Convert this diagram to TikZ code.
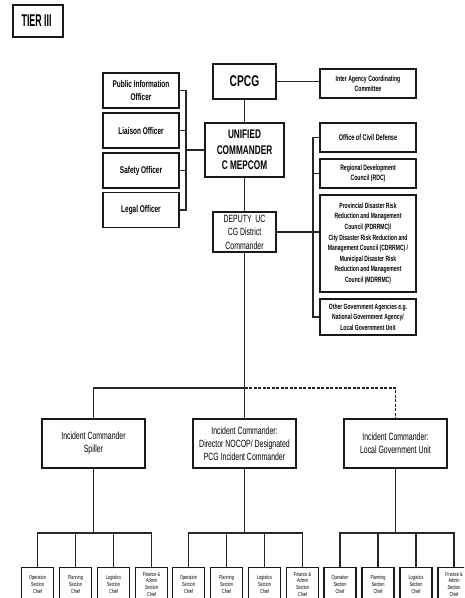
\documentclass[tikz,border=0pt]{standalone}
\usepackage{fontspec}
\setmainfont[FakeStretch=0.66]{Liberation Sans}
\newfontfamily\tierfont[FakeStretch=0.52]{Liberation Sans}
\begin{document}
\begin{tikzpicture}[x=1pt,y=-1pt,
  box/.style={draw=black!90,line width=1.2pt,fill=white,align=center,inner sep=1pt},
  conn/.style={draw=black!85,line width=1.1pt},
  dconn/.style={conn,dashed,dash pattern=on 3pt off 1.5pt},
  sub/.style={box,minimum width=32pt,minimum height=34pt,font=\fontsize{5.8}{6.8}\selectfont,anchor=north,text depth=0pt}]
\useasboundingbox (0,0) rectangle (464,598);
\clip (0,0) rectangle (464,598);
% title
\node[box,minimum width=50pt,minimum height=32pt,font=\tierfont\bfseries\fontsize{17}{19}\selectfont] (tier) at (38,21) {TIER III\,};
% top
\node[box,minimum width=63pt,minimum height=35pt,font=\bfseries\fontsize{15.5}{17}\selectfont] (cpcg) at (244.5,81.5) {CPCG};
\node[box,minimum width=96pt,minimum height=29pt,font=\bfseries\fontsize{7.8}{10.5}\selectfont] (iacc) at (368,83.5) {Inter Agency Coordinating\\Committee};
\node[box,minimum width=76pt,minimum height=35pt,font=\bfseries\fontsize{9.8}{13}\selectfont] (pio) at (141,90.5) {Public Information\\Officer};
\node[box,minimum width=76pt,minimum height=35pt,font=\bfseries\fontsize{9.8}{13}\selectfont] (lo) at (141,130.5) {Liaison Officer};
\node[box,minimum width=76pt,minimum height=35pt,font=\bfseries\fontsize{9.8}{13}\selectfont] (so) at (141,170.5) {Safety Officer};
\node[box,minimum width=76pt,minimum height=35pt,font=\bfseries\fontsize{9.8}{13}\selectfont] (lgo) at (141,210) {Legal Officer};
\node[box,minimum width=79pt,minimum height=54pt,font=\bfseries\fontsize{12.5}{15.5}\selectfont] (uc) at (244.5,150) {UNIFIED\\COMMANDER\\C MEPCOM};
\node[box,minimum width=63pt,minimum height=40pt,font=\fontsize{10.5}{13.5}\selectfont] (dep) at (244.5,232) {DEPUTY\ \ UC\\CG District\\Commander};
\node[box,minimum width=96pt,minimum height=29pt,font=\bfseries\fontsize{8.3}{10.5}\selectfont] (ocd) at (368,137.5) {Office of Civil Defense};
\node[box,minimum width=96pt,minimum height=29pt,font=\bfseries\fontsize{7.8}{10.5}\selectfont] (rdc) at (368,173.5) {Regional Development\\Council (RDC)};
\node[box,minimum width=96pt,minimum height=97pt,font=\bfseries\fontsize{7.6}{10.6}\selectfont] (prov) at (368,243.5) {Provincial Disaster Risk\\Reduction and Management\\Council (PDRRMC)/\\City Disaster Risk Reduction and\\Management Council (CDRRMC) /\\Municipal Disaster Risk\\Reduction and Management\\Council (MDRRMC)};
\node[box,minimum width=96pt,minimum height=36pt,font=\bfseries\fontsize{7.6}{10.6}\selectfont] (oga) at (368,317) {Other Government Agencies e.g.\\National Government Agency/\\Local Government Unit};
% incident commanders
\node[box,minimum width=103pt,minimum height=49pt,font=\fontsize{10.5}{13}\selectfont] (ic1) at (93.5,443.5) {Incident Commander\\Spiller};
\node[box,minimum width=103pt,minimum height=49pt,font=\fontsize{10.5}{13}\selectfont] (ic2) at (244.5,443.5) {Incident Commander:\\Director NOCOP/ Designated\\PCG Incident Commander};
\node[box,minimum width=103pt,minimum height=49pt,font=\fontsize{10.5}{13}\selectfont] (ic3) at (395.5,443.5) {Incident Commander:\\Local Government Unit};
% section chiefs
\foreach \g/\xa in {a/37.5,b/188.5,c/340}{
  \node[sub] (\g1) at (\xa,566.5) {Operation\\Section\\Chief};
  \node[sub] (\g2) at (\xa+38,566.5) {Planning\\Section\\Chief};
  \node[sub] (\g3) at (\xa+76,566.5) {Logistics\\Section\\Chief};
  \node[sub] (\g4) at (\xa+114,566.5) {Finance \&\\Admin\\Section\\Chief};
}
% coordinates
\coordinate (lb) at (186,0);
\coordinate (rb) at (313,0);
\coordinate (bus) at (0,388);
\coordinate (sb) at (0,533);
% connectors
\draw[conn] (cpcg.east) -- (cpcg.east -| iacc.west);
\draw[conn] (cpcg.south) -- (uc.north);
\draw[conn] (uc.south) -- (dep.north);
\draw[conn] (pio.east) -- (pio.east -| lb) -- (lgo.east -| lb) -- (lgo.east);
\draw[conn] (lo.east) -- (lo.east -| lb);
\draw[conn] (so.east) -- (so.east -| lb);
\draw[conn] (uc.west) -- (uc.west -| lb);
\draw[conn] (ocd.west) -- (ocd.west -| rb) -- (oga.west -| rb) -- (oga.west);
\draw[conn] (rdc.west) -- (rdc.west -| rb);
\draw[conn] (dep.east) -- (dep.east -| prov.west);
\draw[conn] (dep.south) -- (ic2.north);
\draw[conn] (dep.south |- bus) -- (ic1.north |- bus) -- (ic1.north);
\draw[dconn] (dep.south |- bus) -- (ic3.north |- bus) -- (ic3.north);
\foreach \g/\ic in {a/ic1,b/ic2,c/ic3}{
  \draw[conn] (\ic.south) -- (\ic.south |- sb);
  \draw[conn] (\g1.north) -- (\g1.north |- sb) -- (\g4.north |- sb) -- (\g4.north);
  \draw[conn] (\g2.north) -- (\g2.north |- sb);
  \draw[conn] (\g3.north) -- (\g3.north |- sb);
}
\end{tikzpicture}
\end{document}
